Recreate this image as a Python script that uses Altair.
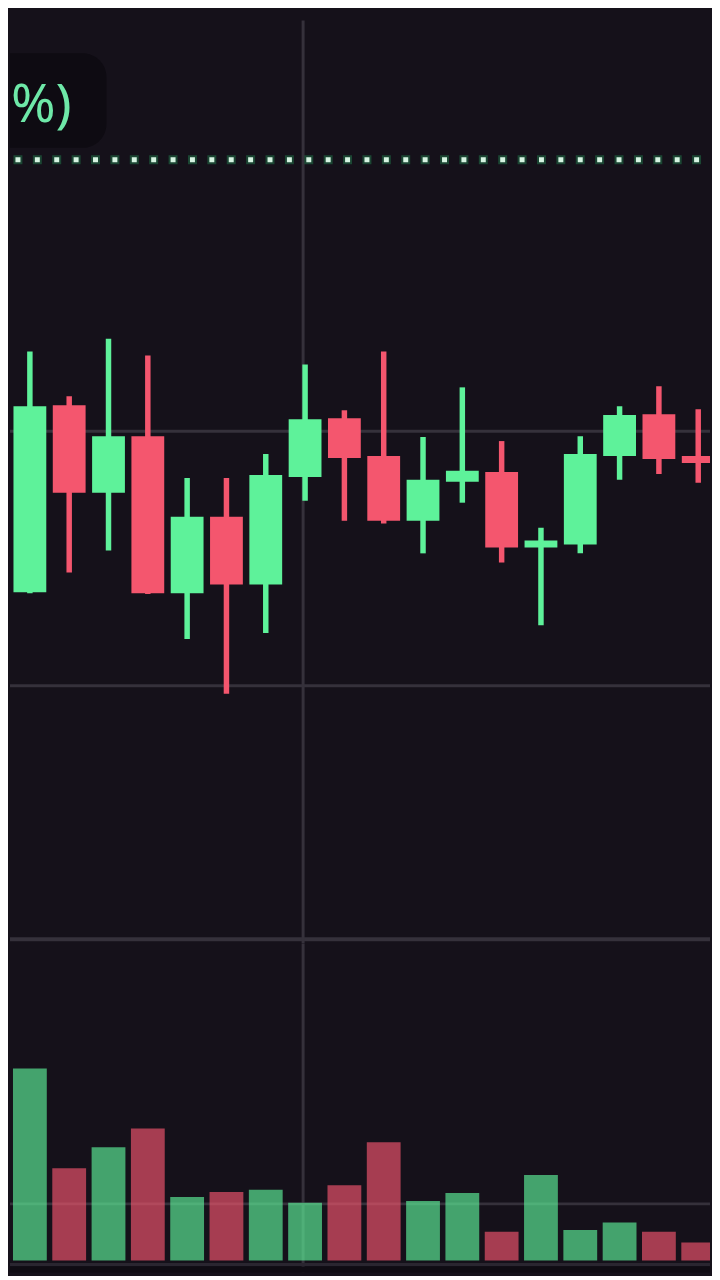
import altair as alt
import pandas as pd

# ---- data ----
idx = list(range(19))
opens = [82.93, 93.67, 101.02, 97.58, 99.80, 93.63, 96.64, 93.98, 98.20, 100.51,
         99.02, 96.48, 98.01, 98.40, 95.43, 95.55, 99.02, 100.66, 99.02]
closes = [93.83, 100.98, 97.58, 99.80, 93.63, 96.64, 93.98, 98.28, 100.47, 98.95,
          96.48, 98.09, 98.44, 95.43, 95.70, 99.10, 100.63, 98.91, 98.75]
highs = [95.20, 103.13, 101.37, 103.63, 102.97, 98.16, 98.16, 99.10, 102.62, 100.82,
         103.13, 99.77, 101.72, 99.61, 96.21, 99.80, 100.98, 101.76, 100.86]
lows = [81.50, 93.63, 94.45, 95.31, 93.60, 91.84, 89.69, 92.07, 97.27, 96.48,
        96.37, 95.20, 97.19, 94.84, 92.38, 95.20, 98.09, 98.32, 97.97]
volumes = [2.84, 3.39, 1.63, 2.00, 2.33, 1.12, 1.21, 1.25, 1.02, 1.33,
           2.09, 1.05, 1.19, 0.51, 1.51, 0.54, 0.67, 0.51, 0.32]
price_grid = [90, 100]
volume_grid = [1.0]
crosshair_index = [7.95]
label = "%)"

# ---- colours ----
BG = "#15111a"
GREEN = "#5ef29a"
RED = "#f4566e"
GRID = "#35313b"
BOX = "#0e0b12"
TEXT = "#6ee8a8"

df = pd.DataFrame({"i": idx, "open": opens, "close": closes,
                   "high": highs, "low": lows, "vol": volumes})
df["dir"] = ["up" if c >= o else "down" for o, c in zip(opens, closes)]

W = 704
H_PRICE = 937
H_VOL = 331

xscale = alt.Scale(domain=[0.494, 18.30], nice=False, zero=False, padding=0)
pscale = alt.Scale(domain=[79.884, 116.48], nice=False, zero=False, padding=0)
vscale = alt.Scale(domain=[-0.21, 5.6], nice=False, zero=False, padding=0)
color = alt.Color("dir:N", scale=alt.Scale(domain=["up", "down"], range=[GREEN, RED]), legend=None)
X = alt.X("i:Q", scale=xscale, axis=None)

one = pd.DataFrame({"a": [0]})

# ---- price pane ----
pgrid = alt.Chart(pd.DataFrame({"p": price_grid})).mark_rule(color=GRID, strokeWidth=3).encode(
    y=alt.Y("p:Q", scale=pscale, axis=None))
psep = alt.Chart(one).mark_rect(color=GRID).encode(
    x=alt.value(0), x2=alt.value(W), y=alt.value(931), y2=alt.value(935))
pvline = alt.Chart(pd.DataFrame({"i": crosshair_index})).mark_rule(color=GRID, strokeWidth=3, clip=True).encode(
    x=X, y=alt.value(9), y2=alt.value(H_PRICE))
wick = alt.Chart(df).mark_rule(strokeWidth=5.5, clip=True).encode(
    x=X, y=alt.Y("low:Q", scale=pscale, axis=None), y2="high:Q", color=color)
body = alt.Chart(df).mark_bar(size=33, clip=True).encode(
    x=X, y=alt.Y("open:Q", scale=pscale, axis=None), y2="close:Q", color=color)
box = alt.Chart(one).mark_rect(cornerRadius=24, color=BOX, clip=True).encode(
    x=alt.value(-30), x2=alt.value(97), y=alt.value(42), y2=alt.value(137))
txt = alt.Chart(one).mark_text(text=label, align="left", baseline="middle", fontSize=54,
                               font="Noto Sans", color=TEXT).encode(
    x=alt.value(1), y=alt.value(95))
glow = alt.Chart(one).mark_rule(strokeDash=[9, 10.5], strokeDashOffset=16, strokeWidth=9,
                                color="#1f6b45", opacity=0.6, clip=True).encode(
    x=alt.value(0), x2=alt.value(W), y=alt.value(149))
dots = alt.Chart(one).mark_rule(strokeDash=[5, 14.5], strokeDashOffset=14, strokeWidth=5,
                                color="#d6f4e2", clip=True).encode(
    x=alt.value(0), x2=alt.value(W), y=alt.value(149))

price = alt.layer(pgrid, psep, pvline, wick, body, box, txt, glow, dots).properties(
    width=W, height=H_PRICE)

# ---- volume pane ----
vgrid = alt.Chart(pd.DataFrame({"v": volume_grid})).mark_rule(color=GRID, strokeWidth=3, clip=True).encode(
    y=alt.Y("v:Q", scale=vscale, axis=None))
vvline = alt.Chart(pd.DataFrame({"i": crosshair_index})).mark_rule(color=GRID, strokeWidth=3, clip=True).encode(
    x=X, y=alt.value(0), y2=alt.value(H_VOL))
strip = alt.Chart(one).mark_rect(color="#0f0c13").encode(
    x=alt.value(0), x2=alt.value(W), y=alt.value(325), y2=alt.value(H_VOL))
bottom = alt.Chart(pd.DataFrame({"v": [-0.07]})).mark_rule(color="#2a2630", strokeWidth=3, clip=True).encode(
    y=alt.Y("v:Q", scale=vscale, axis=None))
vbars = alt.Chart(df).mark_bar(size=34, opacity=0.65, clip=True).encode(
    x=X, y=alt.Y("vol:Q", scale=vscale, axis=None), y2=alt.datum(0), color=color)

volume = alt.layer(vgrid, vvline, strip, bottom, vbars).properties(width=W, height=H_VOL)

chart = alt.vconcat(price, volume, spacing=0, bounds="flush").properties(
    background=BG, padding=0
).configure_view(stroke=None)

chart.save("out.html", embed_options={"renderer": "svg", "actions": False})
